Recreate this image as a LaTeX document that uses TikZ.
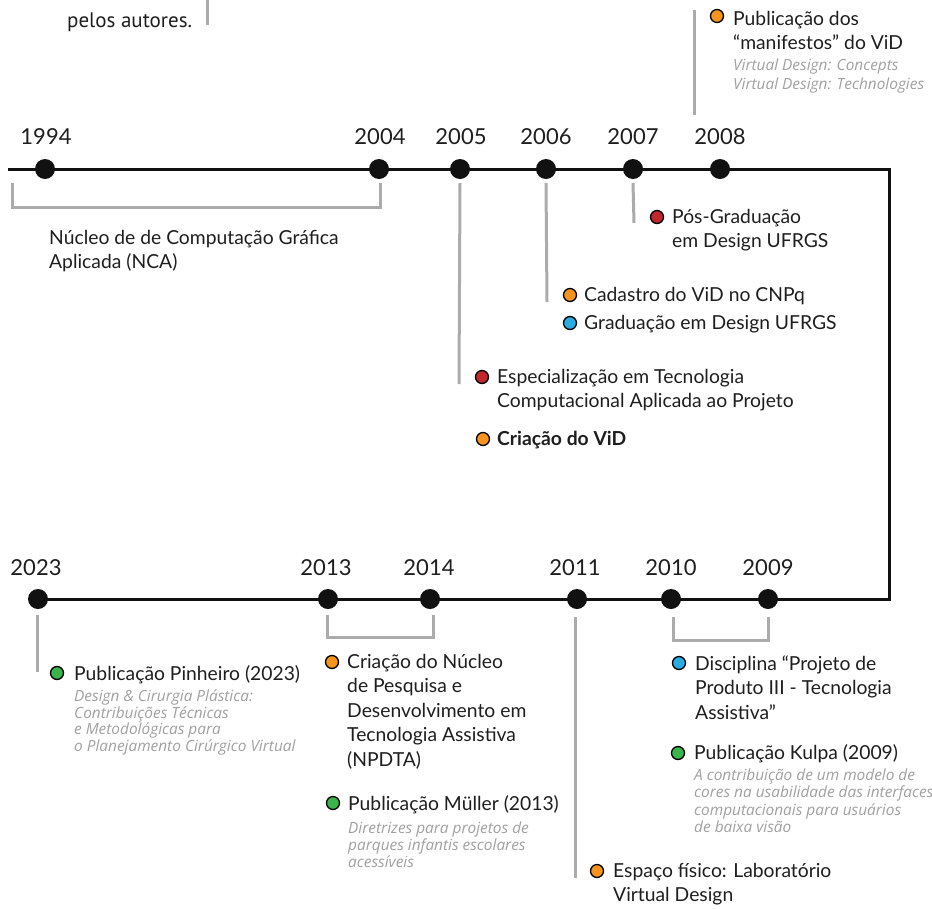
\documentclass[tikz,border=0pt]{standalone}
\usepackage{fontspec}
\setmainfont{Lato}
\newfontfamily\capfont{PT Sans}
\newfontfamily\notefont{Open Sans}
\usetikzlibrary{backgrounds}
\definecolor{lineblack}{HTML}{111111}
\definecolor{txtc}{HTML}{1E1E1E}
\definecolor{grayl}{HTML}{ABABAB}
\definecolor{notec}{HTML}{A0A0A0}
\definecolor{cOr}{HTML}{F7941D}
\definecolor{cRd}{HTML}{C1272D}
\definecolor{cBl}{HTML}{29ABE2}
\definecolor{cGr}{HTML}{39B54A}
\newcommand\lns[1]{\vtop{\halign{##\hfil\cr#1\crcr}}}
\tikzset{
  tline/.style={draw=lineblack,line width=3pt},
  gline/.style={draw=grayl,line width=3pt},
  ydot/.style={circle,fill=lineblack,minimum size=20pt,inner sep=0pt},
  cdot/.style={circle,draw=black,line width=1.3pt,minimum size=13pt,inner sep=0pt},
  yr/.style={anchor=base,inner sep=0pt,text=txtc,font=\fontsize{22}{26}\selectfont},
  txt/.style={anchor=base west,inner sep=0pt,text=txtc,font=\fontsize{19.3}{24.5}\selectfont},
  note/.style={anchor=base west,inner sep=0pt,text=notec,font=\notefont\fontsize{15.4}{17}\selectfont\itshape},
}
\begin{document}
\begin{tikzpicture}[x=1pt,y=-1pt]
\useasboundingbox (0,0) rectangle (932,908);
% top timeline dots
\node[ydot] (d1994) at (45,169) {};
\node[ydot] (d2004) at (379,169) {};
\node[ydot] (d2005) at (460,169) {};
\node[ydot] (d2006) at (546,169) {};
\node[ydot] (d2007) at (633,169) {};
\node[ydot] (d2008) at (720,169) {};
% bottom timeline dots
\node[ydot] (d2023) at (38,599) {};
\node[ydot] (d2013) at (328,599) {};
\node[ydot] (d2014) at (430,599) {};
\node[ydot] (d2011) at (577,599) {};
\node[ydot] (d2010) at (671,599) {};
\node[ydot] (d2009) at (768,599) {};
\coordinate (tstart) at (8,169);
\coordinate (ctr) at (889,169);
\coordinate (cbr) at (889,599);
\begin{scope}[on background layer]
\draw[tline] (tstart) -- (d1994.center) -- (d2004.center) -- (d2005.center) -- (d2006.center) -- (d2007.center) -- (d2008.center) -- (ctr) -- (cbr) -- (d2009.center) -- (d2010.center) -- (d2011.center) -- (d2014.center) -- (d2013.center) -- (d2023.center);
\end{scope}
% years
\node[yr] (y1994) at (46,144) {1994};
\node[yr] (y2004) at (380,144) {2004};
\node[yr] (y2005) at (461,144) {2005};
\node[yr] (y2006) at (546,144) {2006};
\node[yr] (y2007) at (633,144) {2007};
\node[yr] (y2008) at (720,144) {2008};
\node[yr] (y2023) at (36,575) {2023};
\node[yr] (y2013) at (326,575) {2013};
\node[yr] (y2014) at (429,575) {2014};
\node[yr] (y2011) at (575,575) {2011};
\node[yr] (y2010) at (671,575) {2010};
\node[yr] (y2009) at (768,575) {2009};
% top-left caption fragment
\node[anchor=base west,inner sep=0pt,text=txtc,font=\capfont\fontsize{21}{24}\selectfont] (cap) at (67,27) {pelos autores.};
\coordinate (capA) at (207,0);
\coordinate (capB) at (207,25);
\draw[gline] (capA) -- (capB);
% gray connectors top
\coordinate (b1a) at (12,183);
\coordinate (b1b) at (12,207);
\coordinate (b1c) at (380,207);
\coordinate (b1d) at (380,183);
\draw[gline] (b1a) -- (b1b) -- (b1c) -- (b1d);
\coordinate (g2005) at (459,384);
\coordinate (g2006) at (547,302);
\coordinate (g2007) at (634,223);
\draw[gline] ([yshift=-14pt]d2005.center) -- (g2005);
\draw[gline] ([yshift=-14pt]d2006.center) -- (g2006);
\draw[gline] ([yshift=-14pt]d2007.center) -- (g2007);
\coordinate (g2008a) at (694,10);
\coordinate (g2008b) at (694,115);
\draw[gline] (g2008a) -- (g2008b);
% gray connectors bottom
\coordinate (g2023) at (37,672);
\draw[gline] (37,615) -- (g2023);
\coordinate (b2a) at (327,615);
\coordinate (b2b) at (327,637);
\coordinate (b2c) at (433,637);
\coordinate (b2d) at (433,615);
\draw[gline] (b2a) -- (b2b) -- (b2c) -- (b2d);
\coordinate (g2011a) at (575,617);
\coordinate (g2011b) at (575,878);
\draw[gline] (g2011a) -- (g2011b);
\coordinate (b3a) at (673,617);
\coordinate (b3b) at (673,640);
\coordinate (b3c) at (768,640);
\coordinate (b3d) at (768,617);
\draw[gline] (b3a) -- (b3b) -- (b3c) -- (b3d);
% top texts
\node[txt] (nca) at (49,244) {\lns{Núcleo de de Computação Gráfica\cr Aplicada (NCA)}};
\node[cdot,fill=cOr] (o2008) at (717,16) {};
\node[txt] (t2008) at (733,25) {\lns{Publicação dos\cr “manifestos” do ViD}};
\node[note] (n2008a) at (733,70) {Virtual Design: Concepts};
\node[note] (n2008b) at (733,89) {Virtual Design: Technologies};
\node[cdot,fill=cRd] (o2007) at (657,217) {};
\node[txt] (t2007) at (672,223) {\lns{Pós-Graduação\cr em Design UFRGS}};
\node[cdot,fill=cOr] (o2006a) at (570,295) {};
\node[txt] (t2006a) at (584,301) {Cadastro do ViD no CNPq};
\node[cdot,fill=cBl] (o2006b) at (570,323) {};
\node[txt] (t2006b) at (584,329) {Graduação em Design UFRGS};
\node[cdot,fill=cRd] (o2005a) at (482,377) {};
\node[txt] (t2005a) at (497,383) {\lns{Especialização em Tecnologia\cr Computacional Aplicada ao Projeto}};
\node[cdot,fill=cOr] (o2005b) at (483,439) {};
\node[txt,font=\fontsize{19.3}{24.5}\selectfont\bfseries] (t2005b) at (497,445) {Criação do ViD};
% bottom texts
\node[cdot,fill=cGr] (o2023) at (57,673) {};
\node[txt] (t2023) at (74,680) {Publicação Pinheiro (2023)};
\node[note] (n2023a) at (74,701) {Design \& Cirurgia Plástica:};
\node[note] (n2023b) at (74,718) {Contribuições Técnicas};
\node[note] (n2023c) at (74,734) {e Metodológicas para};
\node[note] (n2023d) at (74,751) {o Planejamento Cirúrgico Virtual};
\node[cdot,fill=cOr] (o2014) at (332,662) {};
\node[txt] (t2014) at (347,668) {\lns{Criação do Núcleo\cr de Pesquisa e\cr Desenvolvimento em\cr Tecnologia Assistiva\cr (NPDTA)}};
\node[cdot,fill=cGr] (o2013) at (333,803) {};
\node[txt] (t2013) at (348,810) {Publicação Müller (2013)};
\node[note] (n2013a) at (348,833) {Diretrizes para projetos de};
\node[note] (n2013b) at (348,850) {parques infantis escolares};
\node[note] (n2013c) at (348,867) {acessíveis};
\node[cdot,fill=cOr] (o2011) at (597,871) {};
\node[txt] (t2011) at (613,877) {\lns{Espaço físico: Laboratório\cr Virtual Design}};
\node[cdot,fill=cBl] (o2010) at (679,663) {};
\node[txt] (t2010) at (695,670) {\lns{Disciplina “Projeto de\cr Produto III - Tecnologia\cr Assistiva”}};
\node[cdot,fill=cGr] (o2009) at (678,753) {};
\node[txt] (t2009) at (694,759) {Publicação Kulpa (2009)};
\node[note] (n2009a) at (694,780) {A contribuição de um modelo de};
\node[note] (n2009b) at (694,797) {cores na usabilidade das interfaces};
\node[note] (n2009c) at (694,815) {computacionais para usuários};
\node[note] (n2009d) at (694,832) {de baixa visão};
\end{tikzpicture}
\end{document}
